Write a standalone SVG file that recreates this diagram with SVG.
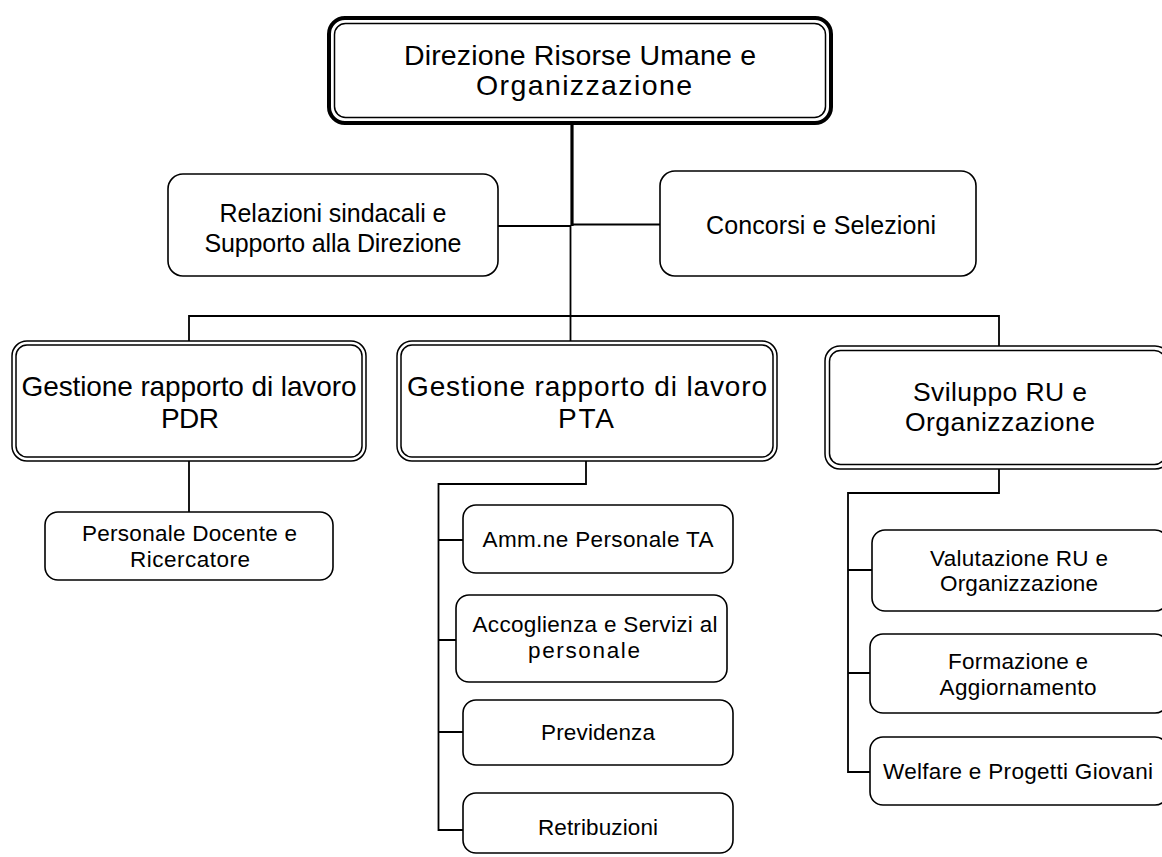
<svg xmlns="http://www.w3.org/2000/svg" width="1162" height="857" viewBox="0 0 1162 857">
<style>
.box{fill:#fff;stroke:#000;stroke-width:1.6}
.thick{fill:none;stroke:#000;stroke-width:4}
.dbl{fill:#fff;stroke:#000;stroke-width:1.5}
.dbli{fill:none;stroke:#000;stroke-width:1.5}
.c{fill:none;stroke:#000;stroke-width:1.8}
text{font-family:"Liberation Sans",Arial,sans-serif;fill:#000;text-anchor:middle}
.t1{font-size:28.5px}
.t2{font-size:25px}
.t3{font-size:28px}
.t3b{font-size:26.5px}
.t4{font-size:22.5px}
</style>
<rect width="1162" height="857" fill="#fff"/>
<g id="connectors">
<path class="c" d="M572 125V226" style="stroke-width:3.2"/>
<path class="c" d="M498 226H571"/>
<path class="c" d="M572 224.5H660"/>
<path class="c" d="M570.5 226V316"/>
<path class="c" d="M189 341V316H999V346"/>
<path class="c" d="M570.5 316V341"/>
<path class="c" d="M189 461V512"/>
<path class="c" d="M586 461V484H438.5V830H463"/>
<path class="c" d="M438.5 540H463M438.5 640H456M438.5 732H463"/>
<path class="c" d="M999 469V493H848V772H870"/>
<path class="c" d="M848 570H872M848 673H870"/>
</g>
<g id="n-direzione">
<rect class="thick" x="329" y="18" width="502" height="105" rx="16"/>
<rect class="dbli" x="334.5" y="23.5" width="491" height="94" rx="11"/>
<text class="t1" x="580" y="65" textLength="352" lengthAdjust="spacing">Direzione Risorse Umane e</text>
<text class="t1" x="584" y="95" textLength="216" lengthAdjust="spacing">Organizzazione</text>
</g>
<g id="n-relazioni">
<rect class="box" x="168" y="174" width="330" height="102" rx="15"/>
<text class="t2" x="333" y="222" textLength="227" lengthAdjust="spacing">Relazioni sindacali e</text>
<text class="t2" x="333" y="252" textLength="257" lengthAdjust="spacing">Supporto alla Direzione</text>
</g>
<g id="n-concorsi">
<rect class="box" x="660" y="171" width="316" height="105" rx="15"/>
<text class="t2" x="821" y="234" textLength="230" lengthAdjust="spacing">Concorsi e Selezioni</text>
</g>
<g id="n-pdr">
<rect class="dbl" x="12" y="341" width="354" height="120" rx="15"/>
<rect class="dbli" x="16" y="345" width="346" height="112" rx="11"/>
<text class="t3" x="189" y="396" textLength="335" lengthAdjust="spacing">Gestione rapporto di lavoro</text>
<text class="t3" x="190" y="428" textLength="58" lengthAdjust="spacing">PDR</text>
</g>
<g id="n-pta">
<rect class="dbl" x="397" y="341" width="380" height="120" rx="15"/>
<rect class="dbli" x="401" y="345" width="372" height="112" rx="11"/>
<text class="t3" x="587" y="396" textLength="360" lengthAdjust="spacing">Gestione rapporto di lavoro</text>
<text class="t3" x="586" y="428" textLength="56" lengthAdjust="spacing">PTA</text>
</g>
<g id="n-sviluppo">
<rect class="dbl" x="825" y="346" width="345" height="123" rx="15"/>
<rect class="dbli" x="829.5" y="350.5" width="336" height="114" rx="11"/>
<text class="t3b" x="1000" y="401" textLength="174" lengthAdjust="spacing">Sviluppo RU e</text>
<text class="t3b" x="1000" y="431" textLength="190" lengthAdjust="spacing">Organizzazione</text>
</g>
<g id="n-personale">
<rect class="box" x="45" y="512" width="288" height="68" rx="13"/>
<text class="t4" x="189.5" y="541" textLength="215" lengthAdjust="spacing">Personale Docente e</text>
<text class="t4" x="190" y="567" textLength="120" lengthAdjust="spacing">Ricercatore</text>
</g>
<g id="n-amm">
<rect class="box" x="463" y="505" width="270" height="68" rx="13"/>
<text class="t4" x="598" y="547" textLength="231" lengthAdjust="spacing">Amm.ne Personale TA</text>
</g>
<g id="n-accoglienza">
<rect class="box" x="456" y="595" width="271" height="87" rx="13"/>
<text class="t4" x="595" y="632" textLength="245" lengthAdjust="spacing">Accoglienza e Servizi al</text>
<text class="t4" x="584" y="658" textLength="112" lengthAdjust="spacing">personale</text>
</g>
<g id="n-previdenza">
<rect class="box" x="463" y="700" width="270" height="65" rx="13"/>
<text class="t4" x="598" y="740" textLength="114" lengthAdjust="spacing">Previdenza</text>
</g>
<g id="n-retribuzioni">
<rect class="box" x="463" y="793" width="270" height="60" rx="13"/>
<text class="t4" x="598" y="835" textLength="120" lengthAdjust="spacing">Retribuzioni</text>
</g>
<g id="n-valutazione">
<rect class="box" x="872" y="530" width="296" height="81" rx="13"/>
<text class="t4" x="1019" y="566" textLength="178" lengthAdjust="spacing">Valutazione RU e</text>
<text class="t4" x="1019" y="591" textLength="158" lengthAdjust="spacing">Organizzazione</text>
</g>
<g id="n-formazione">
<rect class="box" x="870" y="634" width="298" height="79" rx="13"/>
<text class="t4" x="1018" y="669" textLength="140" lengthAdjust="spacing">Formazione e</text>
<text class="t4" x="1018" y="695" textLength="157" lengthAdjust="spacing">Aggiornamento</text>
</g>
<g id="n-welfare">
<rect class="box" x="870" y="737" width="298" height="68" rx="13"/>
<text class="t4" x="1018" y="779" textLength="270" lengthAdjust="spacing">Welfare e Progetti Giovani</text>
</g>
</svg>
